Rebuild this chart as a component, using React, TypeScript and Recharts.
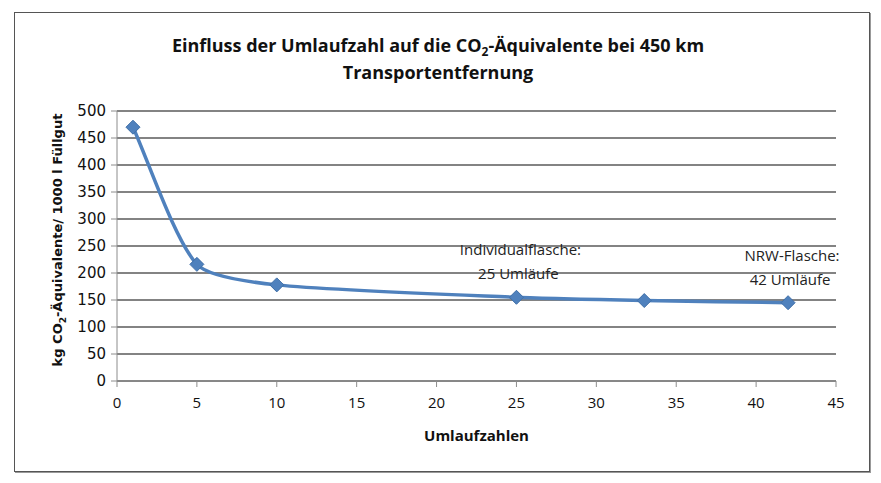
import React from 'react';
import {
  LineChart,
  Line,
  XAxis,
  YAxis,
  CartesianGrid,
  LabelList,
  Label,
} from 'recharts';

const umlaufzahlen = [1, 5, 10, 25, 33, 42];
const co2Werte = [470, 216, 178, 155, 149, 145];
const hinweisZeile1 = ['', '', '', 'Individualflasche:', '', 'NRW-Flasche:'];
const hinweisZeile2 = ['', '', '', '25 Umläufe', '', '42 Umläufe'];
const xTicks = [0, 5, 10, 15, 20, 25, 30, 35, 40, 45];
const yTicks = [0, 50, 100, 150, 200, 250, 300, 350, 400, 450, 500];

const data = umlaufzahlen.map((u, i) => ({
  umlauf: u,
  co2: co2Werte[i],
  note1: hinweisZeile1[i],
  note2: hinweisZeile2[i],
}));

const NARROW = '"Liberation Sans Narrow", "Open Sans", sans-serif';
const BLUE = '#4F81BD';

// Geglättete Linie wie in Excel: Tangente aus den Nachbarn, Länge je Segment skaliert
function excelCurve(context: any) {
  let pts: [number, number][] = [];
  const tangent = (i: number): [number, number] => {
    const a = pts[i - 1] || pts[i];
    const b = pts[i + 1] || pts[i];
    const dx = b[0] - a[0];
    const dy = b[1] - a[1];
    const len = Math.hypot(dx, dy) || 1;
    return [dx / len, dy / len];
  };
  return {
    areaStart() {},
    areaEnd() {},
    lineStart() {
      pts = [];
    },
    point(x: number, y: number) {
      pts.push([+x, +y]);
    },
    lineEnd() {
      if (!pts.length) return;
      context.moveTo(pts[0][0], pts[0][1]);
      const k = 0.22;
      for (let i = 0; i < pts.length - 1; i++) {
        const p1 = pts[i];
        const p2 = pts[i + 1];
        const seg = Math.hypot(p2[0] - p1[0], p2[1] - p1[1]);
        const t1 = tangent(i);
        const t2 = tangent(i + 1);
        context.bezierCurveTo(
          p1[0] + t1[0] * seg * k,
          p1[1] + t1[1] * seg * k,
          p2[0] - t2[0] * seg * k,
          p2[1] - t2[1] * seg * k,
          p2[0],
          p2[1],
        );
      }
    },
  };
}

function Diamond(props: any) {
  const { cx, cy } = props;
  if (cx == null || cy == null) return null;
  const r = 7;
  return (
    <polygon
      points={`${cx},${cy - r} ${cx + r},${cy} ${cx},${cy + r} ${cx - r},${cy}`}
      fill={BLUE}
      stroke="#3f6fa8"
      strokeWidth={1}
    />
  );
}

function NoteLabel(props: any) {
  const { x, y, index } = props;
  const l1 = hinweisZeile1[index];
  const l2 = hinweisZeile2[index];
  if (!l1) return null;
  return (
    <g fontFamily='"Open Sans", sans-serif' fontSize={15} fill="#222">
      <text x={x + 4} y={y - 42} textAnchor="middle">{l1}</text>
      <text x={x + 2} y={y - 18} textAnchor="middle">{l2}</text>
    </g>
  );
}

function YTitle() {
  const cx = 62;
  const cy = 240;
  return (
    <text
      x={cx}
      y={cy}
      transform={`rotate(-90 ${cx} ${cy})`}
      textAnchor="middle"
      fontFamily='"DejaVu Sans", sans-serif'
      fontWeight="bold"
      fontSize={13}
      fill="#111"
    >
      kg CO<tspan fontSize={9} dy={4}>2</tspan>
      <tspan dy={-4}>-Äquivalente/ 1000 l Füllgut</tspan>
    </text>
  );
}

export default function App() {
  return (
    <div style={{ position: 'absolute', left: 0, top: 0, width: 881, height: 483, background: '#fff' }}>
      <div
        style={{
          position: 'absolute',
          left: 14,
          top: 12,
          width: 854,
          height: 458,
          border: '1px solid #555',
          boxShadow: '1px 1px 0 #999',
        }}
      />
      <div
        style={{
          position: 'absolute',
          left: 0,
          top: 32,
          width: 876,
          textAlign: 'center',
          fontFamily: NARROW,
          fontWeight: 'bold',
          fontSize: 18,
          lineHeight: '27px',
          color: '#111',
        }}
      >
        Einfluss der Umlaufzahl auf die CO<sub style={{ fontSize: 12, verticalAlign: -4, lineHeight: 0 }}>2</sub>-Äquivalente bei 450 km
        <br />
        Transportentfernung
      </div>
      <LineChart
        width={881}
        height={483}
        data={data}
        margin={{ top: 111, right: 45, bottom: 72, left: 77 }}
        style={{ position: 'absolute', left: 0, top: 0 }}
      >
        <CartesianGrid vertical={false} stroke="#5a5a5a" strokeWidth={1.5} />
        <XAxis
          dataKey="umlauf"
          type="number"
          domain={[0, 45]}
          ticks={xTicks}
          height={30}
          tickSize={6}
          tickMargin={10}
          stroke="#8c8c8c"
          tick={{ fontFamily: NARROW, fontSize: 15, fill: '#111' }}
        >
          <Label
            value="Umlaufzahlen"
            position="insideBottom"
            offset={-30}
            style={{ fontFamily: NARROW, fontWeight: 'bold', fontSize: 15, fill: '#111' }}
          />
        </XAxis>
        <YAxis
          type="number"
          domain={[0, 500]}
          ticks={yTicks}
          width={40}
          tickSize={6}
          tickMargin={5}
          stroke="#8c8c8c"
          tick={{ fontFamily: '"DejaVu Sans", sans-serif', fontSize: 15, fill: '#111' }}
          label={<YTitle />}
        />
        <Line
          dataKey="co2"
          type={excelCurve as any}
          stroke={BLUE}
          strokeWidth={3.5}
          dot={<Diamond />}
          activeDot={false}
          isAnimationActive={false}
        >
          <LabelList dataKey="note1" content={<NoteLabel />} />
        </Line>
      </LineChart>
    </div>
  );
}
